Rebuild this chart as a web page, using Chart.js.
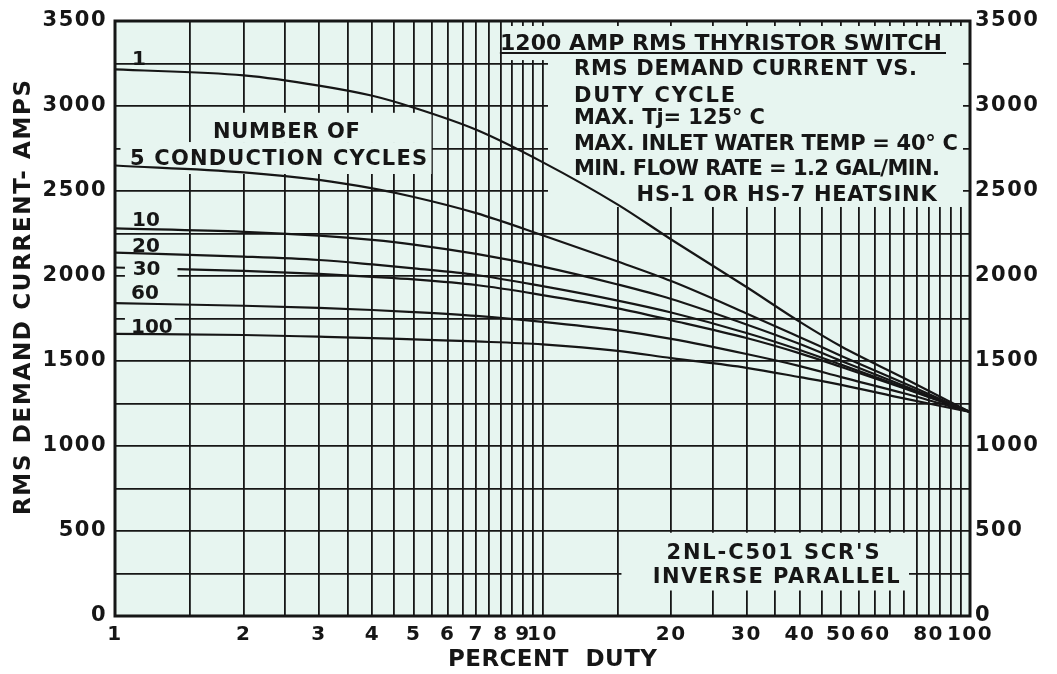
<!DOCTYPE html>
<html>
<head>
<meta charset="utf-8">
<script src="https://cdn.jsdelivr.net/npm/chart.js@4.4.1/dist/chart.umd.min.js"></script>
<style>
  html, body { margin: 0; padding: 0; background: #fff; }
  #wrap { width: 1057px; height: 674px; }
</style>
</head>
<body>
<div id="wrap"><canvas id="grafico"></canvas></div>
<script>
// percent duty values where the curves were read
const percentDuty = [1, 2, 3, 4, 5, 7, 10, 15, 20, 30, 40, 50, 70, 100];

// rms demand current (amps) for each number of conduction cycles
const cycles1   = [3215, 3180, 3120, 3060, 2990, 2860, 2670, 2420, 2215, 1935, 1730, 1585, 1400, 1200];
const cycles5   = [2650, 2610, 2565, 2515, 2465, 2370, 2240, 2085, 1970, 1780, 1640, 1530, 1370, 1200];
const cycles10  = [2280, 2260, 2237, 2212, 2185, 2130, 2055, 1950, 1865, 1715, 1600, 1500, 1355, 1200];
const cycles20  = [2137, 2114, 2094, 2068, 2045, 2006, 1940, 1855, 1785, 1665, 1565, 1478, 1345, 1200];
const cycles30  = [2050, 2030, 2012, 1995, 1980, 1947, 1888, 1810, 1740, 1635, 1545, 1465, 1340, 1200];
const cycles60  = [1840, 1825, 1812, 1800, 1788, 1765, 1730, 1680, 1630, 1541, 1470, 1405, 1310, 1200];
const cycles100 = [1660, 1653, 1643, 1635, 1627, 1615, 1598, 1560, 1517, 1460, 1405, 1360, 1280, 1200];

// grid lines of the log paper and the ones that carry a label
const xGridLines = [1, 1.5, 2, 2.5, 3, 3.5, 4, 4.5, 5, 5.5, 6, 6.5, 7, 7.5, 8, 8.5, 9, 9.5, 10,
  15, 20, 25, 30, 35, 40, 45, 50, 55, 60, 65, 70, 75, 80, 85, 90, 95, 100];
const xTickLabels = [1, 2, 3, 4, 5, 6, 7, 8, 9, 10, 20, 30, 40, 50, 60, 80, 100];
const yTickLabels = [0, 500, 1000, 1500, 2000, 2500, 3000, 3500];

const corPapel = '#e7f5f0';
const tinta = '#161616';
const fonte = '"DejaVu Sans", sans-serif';

// blocos de texto que apagam a grade (unidades dos dados: x0, x1, y0, y1)
const mascarasGrade = [
  [8.2, 100, 3270, 3500],
  [10.3, 100, 2406, 3500],
  [1.6, 5.5, 2788, 2960],
  [1.03, 5.5, 2600, 2788],
  [15.3, 72, 150, 490],
  [1.055, 1.38, 1680, 1790]
];
// rotulo "30" fica por cima da propria curva
const mascarasCurva = [
  [1.055, 1.4, 1976, 2100]
];

// textos: [texto, x esquerdo, y da base, tamanho, largura alvo em px (0 = natural)]
const notas = [
  ['1200 AMP RMS THYRISTOR SWITCH', 7.95, 3329, 22, 442],
  ['RMS DEMAND CURRENT VS.', 11.85, 3182, 21, 343],
  ['DUTY CYCLE', 11.85, 3024, 21, 161],
  ['MAX. Tj= 125° C', 11.85, 2894, 21, 191],
  ['MAX. INLET WATER TEMP = 40° C', 11.85, 2741, 21, 384],
  ['MIN. FLOW RATE = 1.2 GAL/MIN.', 11.85, 2594, 21, 366],
  ['HS-1 OR HS-7 HEATSINK', 16.6, 2441, 21, 300],
  ['NUMBER OF', 1.695, 2812, 21, 147],
  ['5 CONDUCTION CYCLES', 1.084, 2653, 21, 297],
  ['1', 1.096, 3241, 20, 0],
  ['10', 1.096, 2294, 20, 0],
  ['20', 1.096, 2141, 20, 0],
  ['30', 1.1, 2006, 20, 0],
  ['60', 1.09, 1865, 20, 0],
  ['100', 1.09, 1665, 20, 0],
  ["2NL-C501 SCR'S", 19.5, 335, 21, 213],
  ['INVERSE PARALLEL', 18.1, 194, 21, 247]
];

// escreve o texto esticando o espacamento ate a largura alvo
function textoLargura(ctx, texto, x, y, alvo) {
  ctx.letterSpacing = '0px';
  const w = ctx.measureText(texto).width;
  const n = texto.length;
  const s = (alvo > 0 && n > 1) ? (alvo - w) / (n - 1) : 0;
  ctx.letterSpacing = s.toFixed(2) + 'px';
  ctx.fillText(texto, x, y);
}

function retangulo(chart, m, inset) {
  const sx = chart.scales.x, sy = chart.scales.y, a = chart.chartArea;
  let x0 = sx.getPixelForValue(m[0]), x1 = sx.getPixelForValue(m[1]);
  let y0 = sy.getPixelForValue(m[3]), y1 = sy.getPixelForValue(m[2]);
  if (inset) {
    x1 = Math.min(x1, a.right - 7);
    y0 = Math.max(y0, a.top + 5);
  }
  chart.ctx.fillStyle = corPapel;
  chart.ctx.fillRect(x0, y0, x1 - x0, y1 - y0);
}

const papelPlugin = {
  id: 'papel',
  beforeDraw(chart) {
    const ctx = chart.ctx, a = chart.chartArea;
    ctx.letterSpacing = '1.5px';
    ctx.save();
    ctx.fillStyle = corPapel;
    ctx.fillRect(a.left, a.top, a.right - a.left, a.bottom - a.top);
    ctx.restore();
  },
  beforeDatasetsDraw(chart) {
    chart.ctx.save();
    mascarasGrade.forEach(m => retangulo(chart, m, true));
    chart.ctx.restore();
  },
  afterDatasetsDraw(chart) {
    const ctx = chart.ctx, a = chart.chartArea;
    const sx = chart.scales.x, sy = chart.scales.y;
    ctx.save();
    mascarasCurva.forEach(m => retangulo(chart, m, false));
    ctx.fillStyle = tinta;
    ctx.textBaseline = 'alphabetic';
    ctx.textAlign = 'left';
    notas.forEach(n => {
      ctx.font = 'bold ' + n[3] + 'px ' + fonte;
      textoLargura(ctx, n[0], sx.getPixelForValue(n[1]), sy.getPixelForValue(n[2]), n[4]);
    });
    // sublinhado do titulo
    ctx.strokeStyle = tinta;
    ctx.lineWidth = 2;
    ctx.beginPath();
    ctx.moveTo(sx.getPixelForValue(7.95), sy.getPixelForValue(3312));
    ctx.lineTo(a.right - 24, sy.getPixelForValue(3312));
    ctx.stroke();
    // moldura
    ctx.lineWidth = 3;
    ctx.strokeRect(a.left, a.top, a.right - a.left, a.bottom - a.top);

    // titulos dos eixos
    ctx.font = 'bold 23px ' + fonte;
    ctx.textBaseline = 'middle';
    textoLargura(ctx, 'PERCENT  DUTY', 448, 660, 209);
    ctx.translate(24, 298);
    ctx.rotate(-Math.PI / 2);
    textoLargura(ctx, 'RMS DEMAND CURRENT- AMPS', -217, 0, 435);
    ctx.restore();
  }
};

const series = [cycles1, cycles5, cycles10, cycles20, cycles30, cycles60, cycles100];
const nomes = ['1', '5', '10', '20', '30', '60', '100'];

const ctx = document.getElementById('grafico').getContext('2d');
new Chart(ctx, {
  type: 'line',
  data: {
    datasets: series.map((s, i) => ({
      label: nomes[i] + ' cycles',
      data: percentDuty.map((x, k) => ({ x: x, y: s[k] })),
      borderColor: tinta,
      borderWidth: 2.2,
      pointRadius: 0,
      fill: false,
      cubicInterpolationMode: 'monotone'
    }))
  },
  options: {
    responsive: true,
    maintainAspectRatio: false,
    animation: false,
    layout: { padding: { top: 21, right: 0, left: 0, bottom: 0 } },
    plugins: { legend: { display: false }, tooltip: { enabled: false } },
    scales: {
      x: {
        type: 'logarithmic',
        min: 1,
        max: 100,
        afterBuildTicks: s => { s.ticks = xGridLines.map(v => ({ value: v })); },
        afterFit: s => { s.height = 58; },
        grid: { color: tinta, lineWidth: 1.8, drawTicks: false },
        border: { display: false },
        ticks: {
          autoSkip: false,
          maxRotation: 0,
          padding: 7,
          color: tinta,
          font: { family: fonte, size: 20, weight: 'bold' },
          callback: v => xTickLabels.includes(v) ? String(v) : ''
        }
      },
      y: {
        position: 'left',
        min: 0,
        max: 3500,
        afterFit: s => { s.width = 115; },
        grid: { color: tinta, lineWidth: 1.8, drawTicks: false },
        border: { display: false },
        ticks: {
          stepSize: 250,
          padding: 8,
          color: tinta,
          font: { family: fonte, size: 21, weight: 'bold' },
          callback: v => yTickLabels.includes(v) ? String(v) : ''
        }
      },
      y2: {
        position: 'right',
        min: 0,
        max: 3500,
        afterFit: s => { s.width = 87; },
        grid: { drawOnChartArea: false, drawTicks: false },
        border: { display: false },
        ticks: {
          stepSize: 250,
          padding: 5,
          color: tinta,
          font: { family: fonte, size: 21, weight: 'bold' },
          callback: v => yTickLabels.includes(v) ? String(v) : ''
        }
      }
    }
  },
  plugins: [papelPlugin]
});
</script>
</body>
</html>
